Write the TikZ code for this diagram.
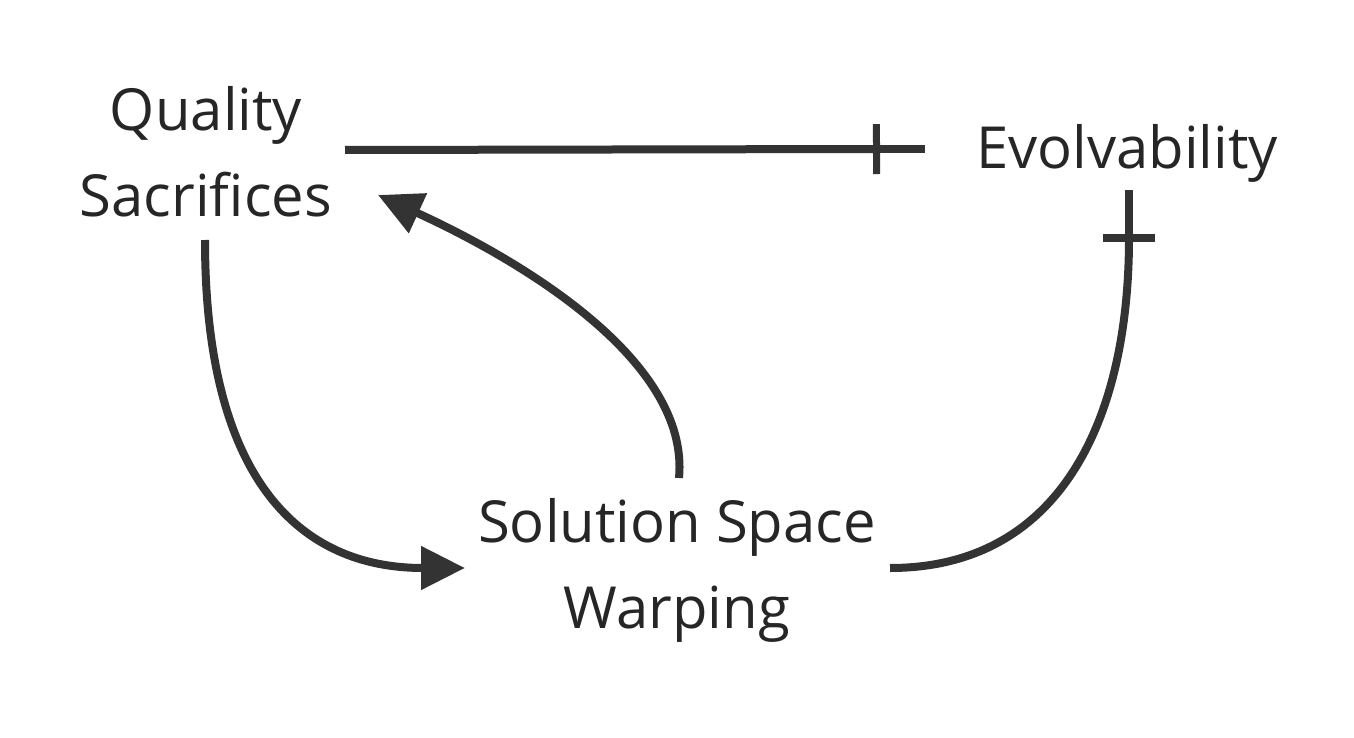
\documentclass[tikz,border=0pt]{standalone}
\usepackage{fontspec}
\setmainfont{Open Sans}
\usetikzlibrary{arrows.meta}
\begin{document}
\begin{tikzpicture}[x=1pt,y=-1pt,
  lbl/.style={font=\fontsize{58}{86}\selectfont, align=center, text=black!85},
  link/.style={line width=8pt, draw=black!80},
  posarr/.style={link,-{Triangle[length=44pt,width=42pt]}},
  negarr/.style={link,-{Bar[width=50pt,line width=7pt]}}]
\useasboundingbox (0,0) rectangle (1354,738);
\node[lbl] (qs) at (206,152) {Quality\\Sacrifices};
\node[lbl] (ev) at (1127,153) {Evolvability};
\node[lbl] (ssw) at (677,570) {Solution Space\\Warping};
\coordinate (a1) at (345,150);
\coordinate (a2) at (880,149);
\coordinate (a3) at (925,149);
\coordinate (b1) at (205,240);
\coordinate (b2) at (465,568);
\coordinate (c1) at (679,478);
\coordinate (c2) at (378,195);
\coordinate (d1) at (890,568);
\coordinate (d2) at (1129,238);
\coordinate (d3) at (1129,190);
\draw[negarr] (a1) -- (a2);
\draw[link] (a2) -- (a3);
\draw[posarr] (b1) .. controls (205,480) and (300,568) .. (b2);
\draw[posarr] (c1) .. controls (690,360) and (520,260) .. (c2);
\draw[link] (d1) .. controls (1060,568) and (1129,420) .. (d2);
\draw[link] (d2) -- (d3);
\draw[link] (1103,238) -- (1155,238);
\end{tikzpicture}
\end{document}
